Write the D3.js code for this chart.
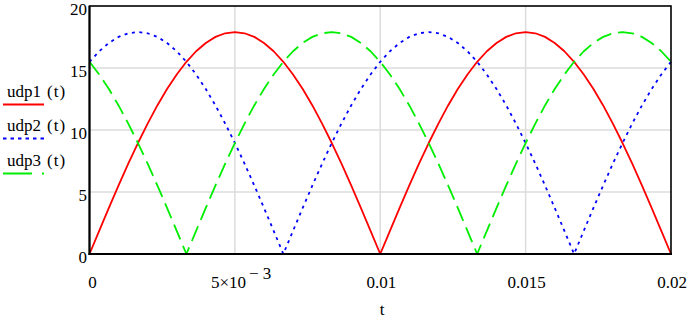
<!DOCTYPE html>
<html>
<head>
<meta charset="utf-8">
<script src="https://cdn.jsdelivr.net/npm/d3@7"></script>
<style>
  html, body { margin: 0; padding: 0; background: #fff; }
  svg { display: block; }
</style>
</head>
<body>
<svg id="chart" width="689" height="319"></svg>
<script>
// ---- data ----
const tStart = 0, tEnd = 0.02, nPoints = 61;       // samples every 0.02/60 s
const udp1 = [0, 1.87, 3.72, 5.53, 7.28, 8.95, 10.52, 11.98, 13.30, 14.48, 15.50, 16.35, 17.02, 17.51, 17.80, 17.90, 17.80, 17.51, 17.02, 16.35, 15.50, 14.48, 13.30, 11.98, 10.52, 8.95, 7.28, 5.53, 3.72, 1.87,
              0, 1.87, 3.72, 5.53, 7.28, 8.95, 10.52, 11.98, 13.30, 14.48, 15.50, 16.35, 17.02, 17.51, 17.80, 17.90, 17.80, 17.51, 17.02, 16.35, 15.50, 14.48, 13.30, 11.98, 10.52, 8.95, 7.28, 5.53, 3.72, 1.87, 0];
const udp2 = [15.50, 16.35, 17.02, 17.51, 17.80, 17.90, 17.80, 17.51, 17.02, 16.35, 15.50, 14.48, 13.30, 11.98, 10.52, 8.95, 7.28, 5.53, 3.72, 1.87,
              0, 1.87, 3.72, 5.53, 7.28, 8.95, 10.52, 11.98, 13.30, 14.48, 15.50, 16.35, 17.02, 17.51, 17.80, 17.90, 17.80, 17.51, 17.02, 16.35, 15.50, 14.48, 13.30, 11.98, 10.52, 8.95, 7.28, 5.53, 3.72, 1.87,
              0, 1.87, 3.72, 5.53, 7.28, 8.95, 10.52, 11.98, 13.30, 14.48, 15.50];
const udp3 = [15.50, 14.48, 13.30, 11.98, 10.52, 8.95, 7.28, 5.53, 3.72, 1.87,
              0, 1.87, 3.72, 5.53, 7.28, 8.95, 10.52, 11.98, 13.30, 14.48, 15.50, 16.35, 17.02, 17.51, 17.80, 17.90, 17.80, 17.51, 17.02, 16.35, 15.50, 14.48, 13.30, 11.98, 10.52, 8.95, 7.28, 5.53, 3.72, 1.87,
              0, 1.87, 3.72, 5.53, 7.28, 8.95, 10.52, 11.98, 13.30, 14.48, 15.50, 16.35, 17.02, 17.51, 17.80, 17.90, 17.80, 17.51, 17.02, 16.35, 15.50];
const seriesNames = ["udp1", "udp2", "udp3"];
const xTicks = [0, 0.005, 0.01, 0.015, 0.02];
const xTickLabels = ["0", "5×10", "0.01", "0.015", "0.02"];
const yTicks = [0, 5, 10, 15, 20];
const yTickLabels = ["0", "5", "10", "15", "20"];
const xTitle = "t";

// ---- layout ----
const FONT = "Liberation Serif";
const svg = d3.select("#chart");
const L = 89.5, R = 671, T = 6, B = 254;
const x = d3.scaleLinear().domain([tStart, tEnd]).range([L, R]);
const y = d3.scaleLinear().domain([0, 20]).range([B, T]);
const tVals = d3.range(nPoints).map(i => tStart + (tEnd - tStart) * i / (nPoints - 1));

function txt(xp, yp, s, anchor) {
  return svg.append("text").attr("x", xp).attr("y", yp)
    .style("font-family", FONT).style("font-size", "17px")
    .attr("text-anchor", anchor || "start").attr("fill", "#000").text(s);
}

// grid
const g = svg.append("g");
g.selectAll(".hg").data(yTicks.filter(v => v > 0 && v < 20)).join("line")
  .attr("x1", L).attr("x2", R).attr("y1", d => y(d)).attr("y2", d => y(d))
  .attr("stroke", "#dcdcdc").attr("stroke-width", 1.5);
g.selectAll(".vg").data(xTicks.filter(v => v > 0 && v < 0.02)).join("line")
  .attr("y1", T).attr("y2", B).attr("x1", d => x(d)).attr("x2", d => x(d))
  .attr("stroke", "#dcdcdc").attr("stroke-width", 1.5);

// series
const styles = [
  { color: "#ff0000", dash: null },
  { color: "#0000ff", dash: "3,4.5" },
  { color: "#00ee00", dash: "16,7" }
];
const datasets = [udp1, udp2, udp3];
const line = d3.line().x((d, i) => x(tVals[i])).y(d => y(d)).curve(d3.curveLinear);
datasets.forEach((ds, k) => {
  svg.append("path").datum(ds).attr("d", line)
    .attr("fill", "none").attr("stroke", styles[k].color).attr("stroke-width", 1.8)
    .attr("stroke-linejoin", "round")
    .attr("stroke-dasharray", styles[k].dash);
});

// frame
svg.append("rect").attr("x", L).attr("y", T).attr("width", R - L).attr("height", B - T)
  .attr("fill", "none").attr("stroke", "#000").attr("stroke-width", 1.6);
svg.append("line").attr("x1", L).attr("x2", L).attr("y1", T).attr("y2", B + 1).attr("stroke", "#000").attr("stroke-width", 2);
svg.append("line").attr("x1", L - 1).attr("x2", R + 1).attr("y1", B).attr("y2", B).attr("stroke", "#000").attr("stroke-width", 2);

// y tick labels
yTicks.forEach((v, i) => txt(87, y(v) + 9, yTickLabels[i], "end"));

// x tick labels
xTicks.forEach((v, i) => {
  if (v === 0.005) {
    const t = txt(x(v) - 24, 288, "");
    t.append("tspan").text(xTickLabels[i]);
    t.append("tspan").attr("dy", -9).attr("dx", 3).text("− 3");
  } else {
    txt(x(v) + (i === 0 ? 3 : 1), 288, xTickLabels[i], "middle");
  }
});

// x title
txt(382, 315, xTitle, "middle");

// legend
const legY = [97, 131, 166];
const legDash = [null, "3.5,4", "29,10,2"];
seriesNames.forEach((n, k) => {
  txt(7, legY[k], n);
  txt(47, legY[k], "(t)").style("letter-spacing", "1px");
  svg.append("line").attr("x1", 3).attr("x2", 44).attr("y1", legY[k] + 7.5).attr("y2", legY[k] + 7.5)
    .attr("stroke", styles[k].color).attr("stroke-width", 1.8).attr("stroke-dasharray", legDash[k]);
});
</script>
</body>
</html>
